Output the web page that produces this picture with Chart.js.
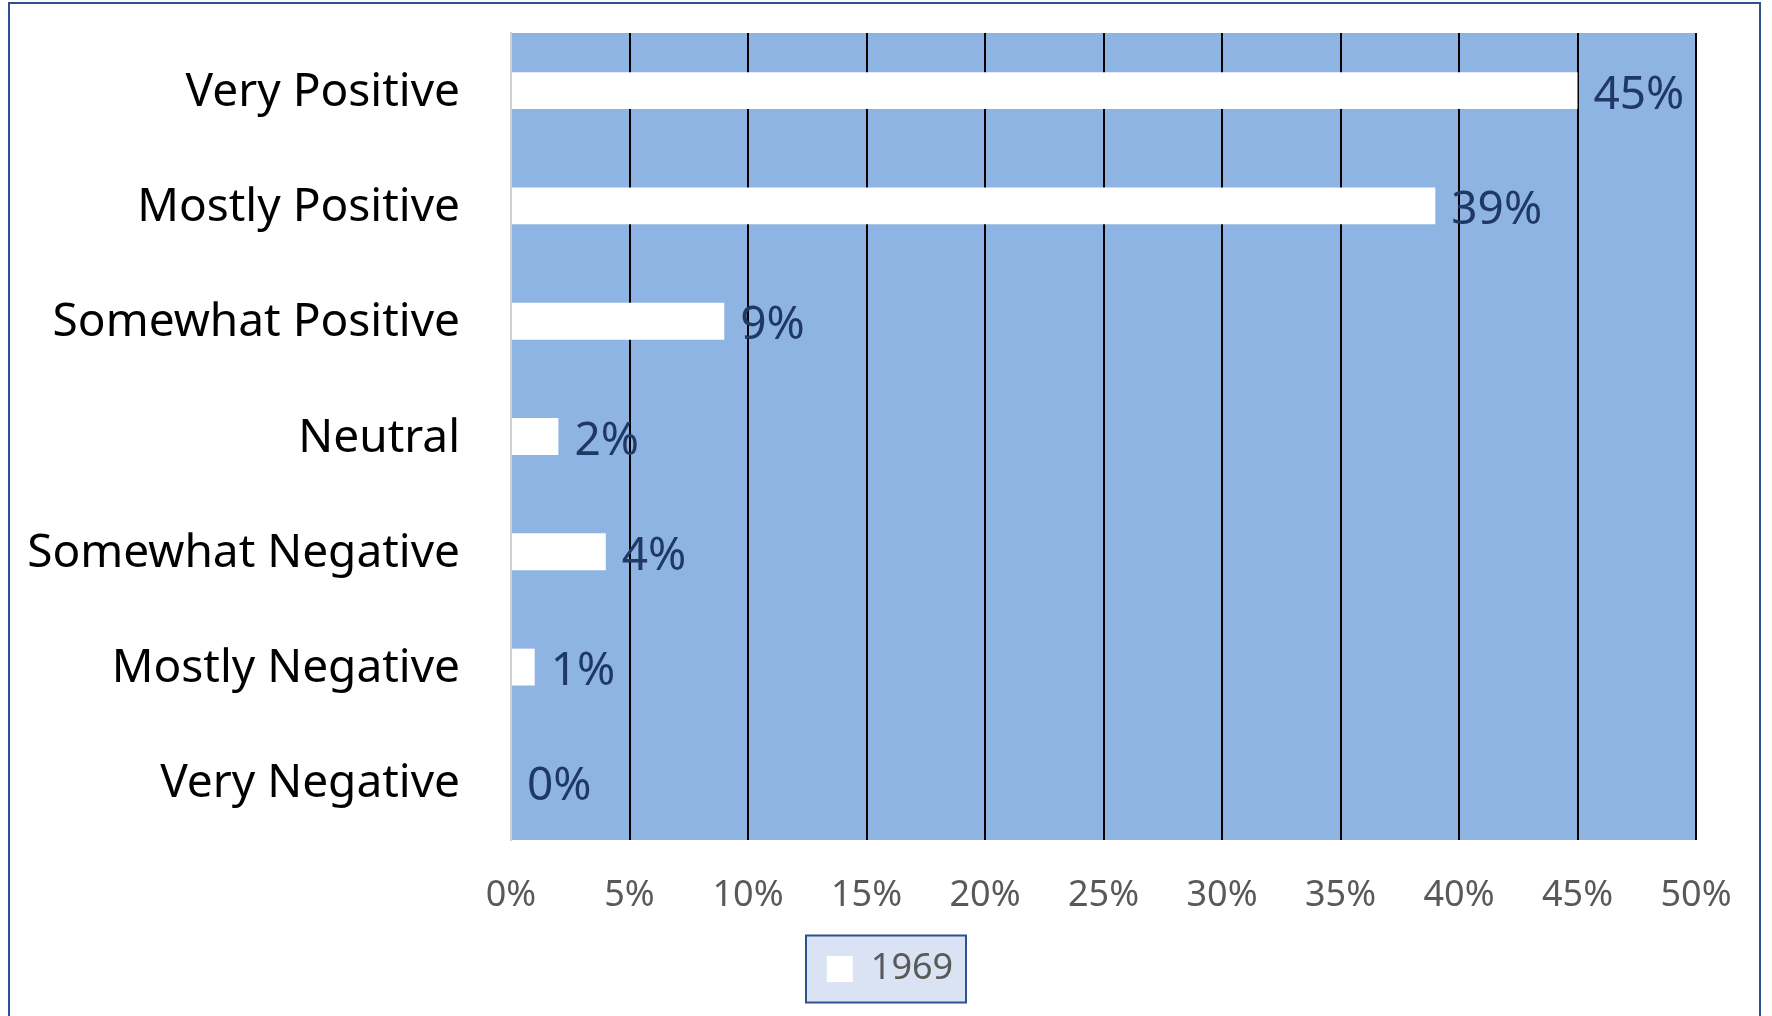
<!DOCTYPE html>
<html>
<head>
<meta charset="utf-8">
<script src="https://cdn.jsdelivr.net/npm/chart.js@4.4.1/dist/chart.umd.min.js"></script>
<style>
  html, body { margin: 0; padding: 0; background: #fff; overflow: hidden; }
  #wrap { position: relative; width: 1772px; height: 1016px; }
  #frame { position: absolute; left: 8px; top: 2px; width: 1753px; height: 1100px; border: 2px solid #2E5290; box-sizing: border-box; pointer-events: none; }
  canvas { position: absolute; left: 0; top: 0; }
</style>
</head>
<body>
<div id="wrap">
  <canvas id="c" width="1772" height="1016"></canvas>
  <div id="frame"></div>
</div>
<script>
const categories = ["Very Positive", "Mostly Positive", "Somewhat Positive", "Neutral", "Somewhat Negative", "Mostly Negative", "Very Negative"];
const seriesName = "1969";
const values1969 = [45, 39, 9, 2, 4, 1, 0];
const xTickValues = [0, 5, 10, 15, 20, 25, 30, 35, 40, 45, 50];

const FONT = "'Noto Sans', 'DejaVu Sans', sans-serif";

const bgPlugin = {
  id: 'bgPlugin',
  afterLayout(chart) {
    const lg = chart.legend;
    if (lg) { lg.left = 80; lg.right = 1700; }
  },
  beforeDraw(chart) {
    const { ctx, chartArea } = chart;
    ctx.save();
    ctx.fillStyle = '#8EB4E3';
    ctx.fillRect(chartArea.left, chartArea.top, chartArea.right - chartArea.left, chartArea.bottom - chartArea.top);
    const lg = chart.legend;
    if (lg) {
      const cx = 886;
      const cy = lg.top + lg.options.labels.padding + 18;
      const w = 160, h = 67;
      ctx.fillStyle = '#DAE3F3';
      ctx.fillRect(cx - w / 2, cy - h / 2, w, h);
      ctx.strokeStyle = '#2E5290';
      ctx.lineWidth = 2;
      ctx.strokeRect(cx - w / 2, cy - h / 2, w, h);
    }
    ctx.restore();
  }
};

const labelPlugin = {
  id: 'labelPlugin',
  afterDatasetsDraw(chart) {
    const { ctx } = chart;
    const meta = chart.getDatasetMeta(0);
    ctx.save();
    ctx.font = "46px " + FONT;
    ctx.fillStyle = '#1F3864';
    ctx.textAlign = 'left';
    ctx.textBaseline = 'middle';
    meta.data.forEach((el, i) => {
      ctx.fillText(values1969[i] + '%', el.x + 16, el.y + 5);
    });
    ctx.restore();
  }
};

new Chart(document.getElementById('c'), {
  type: 'bar',
  data: {
    labels: categories,
    datasets: [{
      label: seriesName,
      data: values1969,
      backgroundColor: '#FFFFFF',
      borderWidth: 0,
      categoryPercentage: 1,
      barPercentage: 0.32
    }]
  },
  options: {
    indexAxis: 'y',
    responsive: false,
    animation: false,
    devicePixelRatio: 1,
    layout: { padding: { left: 0, right: 76, top: 33, bottom: 19 } },
    scales: {
      x: {
        min: 0, max: 50,
        afterBuildTicks(scale) { scale.ticks = xTickValues.map(v => ({ value: v })); },
        afterFit(scale) { scale.height = 96; scale.paddingLeft = 0; scale.paddingRight = 0; },
        ticks: {
          callback: (v) => v + '%',
          color: '#595959',
          font: { family: FONT, size: 36 },
          padding: 34,
          maxRotation: 0,
          autoSkip: false
        },
        grid: {
          drawTicks: false,
          color: (ctx) => (ctx.tick && ctx.tick.value === 0) ? 'rgba(0,0,0,0)' : '#000000',
          lineWidth: 2
        },
        border: { display: false }
      },
      y: {
        afterFit(scale) { scale.width = 511; scale.paddingTop = 0; scale.paddingBottom = 0; },
        ticks: {
          color: '#000000',
          font: { family: FONT, size: 46 },
          padding: 51,
          labelOffset: 2,
          autoSkip: false
        },
        grid: { display: false, drawTicks: false },
        border: { display: true, color: '#D0D0D0', width: 2 }
      }
    },
    plugins: {
      legend: {
        display: true,
        position: 'bottom',
        labels: {
          boxWidth: 26,
          boxHeight: 26,
          color: '#595959',
          font: { family: FONT, size: 36 },
          padding: 15
        }
      },
      tooltip: { enabled: false },
      title: { display: false }
    }
  },
  plugins: [bgPlugin, labelPlugin]
});
</script>
</body>
</html>
